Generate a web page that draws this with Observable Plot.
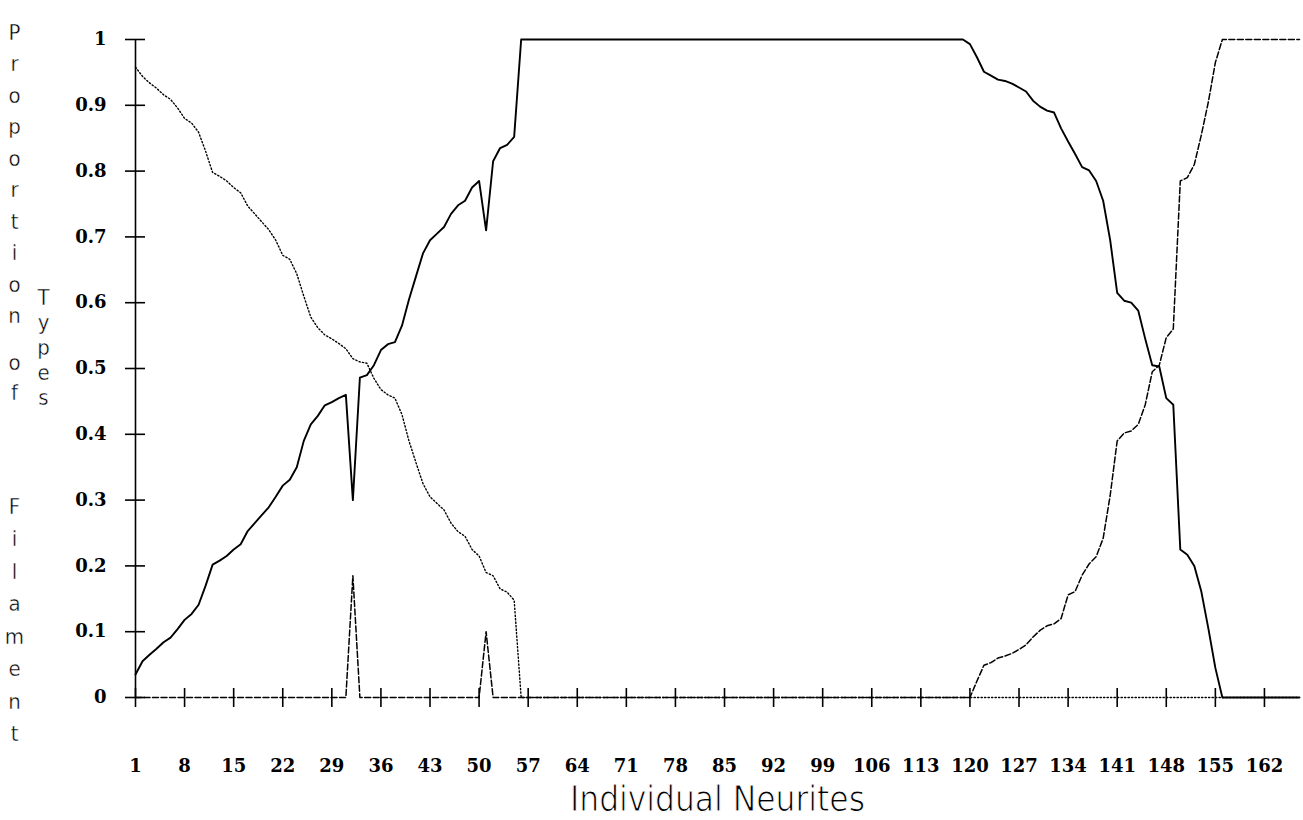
<!DOCTYPE html>
<html><head><meta charset="utf-8">
<script src="https://cdn.jsdelivr.net/npm/d3@7"></script>
<script src="https://cdn.jsdelivr.net/npm/@observablehq/plot@0.6"></script>
<style>
html,body{margin:0;padding:0;background:#fff;}
#chart{width:1303px;height:820px;}
</style></head><body><div id="chart"></div>
<script>
// Individual neurites 1..167
const neurites = d3.range(1, 168);

// Solid line
const solidType = [
  0.035,0.055,0.065,0.074,0.084,0.091,0.104,0.118,0.127,0.141,
  0.170,0.202,0.208,0.215,0.225,0.233,0.253,0.265,0.277,0.289,
  0.305,0.322,0.331,0.350,0.390,0.415,0.428,0.444,0.449,0.455,
  0.460,0.300,0.486,0.490,0.505,0.528,0.537,0.540,0.565,0.605,
  0.640,0.675,0.695,0.705,0.715,0.735,0.748,0.755,0.775,0.785,
  0.710,0.815,0.835,0.840,0.852,1,1,1,1,1,
  1,1,1,1,1,1,1,1,1,1,
  1,1,1,1,1,1,1,1,1,1,
  1,1,1,1,1,1,1,1,1,1,
  1,1,1,1,1,1,1,1,1,1,
  1,1,1,1,1,1,1,1,1,1,
  1,1,1,1,1,1,1,1,1,0.993,
  0.973,0.951,0.945,0.939,0.937,0.933,0.927,0.921,0.907,0.898,
  0.892,0.889,0.865,0.845,0.826,0.806,0.801,0.785,0.755,0.695,
  0.615,0.603,0.600,0.588,0.545,0.505,0.503,0.455,0.445,0.225,
  0.217,0.200,0.161,0.105,0.045,0,0,0,0,0,
  0,0,0,0,0,0,0
];

// Dotted line
const dottedType = [
  0.958,0.944,0.934,0.926,0.916,0.909,0.896,0.880,0.873,0.859,
  0.830,0.798,0.792,0.785,0.775,0.767,0.747,0.735,0.723,0.711,
  0.695,0.672,0.666,0.644,0.610,0.578,0.562,0.551,0.545,0.538,
  0.530,0.515,0.510,0.508,0.485,0.468,0.460,0.455,0.430,0.390,
  0.357,0.325,0.305,0.295,0.285,0.265,0.252,0.245,0.225,0.215,
  0.190,0.185,0.165,0.160,0.148,0,0,0,0,0,
  0,0,0,0,0,0,0,0,0,0,
  0,0,0,0,0,0,0,0,0,0,
  0,0,0,0,0,0,0,0,0,0,
  0,0,0,0,0,0,0,0,0,0,
  0,0,0,0,0,0,0,0,0,0,
  0,0,0,0,0,0,0,0,0,0,
  0,0,0,0,0,0,0,0,0,0,
  0,0,0,0,0,0,0,0,0,0,
  0,0,0,0,0,0,0,0,0,0,
  0,0,0,0,0,0,0,0,0,0,
  0,0,0,0,0,0,0
];

// Dash line
const dashedType = [
  0,0,0,0,0,0,0,0,0,0,
  0,0,0,0,0,0,0,0,0,0,
  0,0,0,0,0,0,0,0,0,0,
  0,0.185,0,0,0,0,0,0,0,0,
  0,0,0,0,0,0,0,0,0,0,
  0.100,0,0,0,0,0,0,0,0,0,
  0,0,0,0,0,0,0,0,0,0,
  0,0,0,0,0,0,0,0,0,0,
  0,0,0,0,0,0,0,0,0,0,
  0,0,0,0,0,0,0,0,0,0,
  0,0,0,0,0,0,0,0,0,0,
  0,0,0,0,0,0,0,0,0,0,
  0.025,0.049,0.053,0.060,0.063,0.067,0.073,0.080,0.092,0.102,
  0.109,0.112,0.120,0.156,0.161,0.186,0.203,0.214,0.242,0.307,
  0.390,0.402,0.405,0.415,0.445,0.495,0.505,0.547,0.560,0.785,
  0.790,0.810,0.855,0.905,0.965,1,1,1,1,1,
  1,1,1,1,1,1,1
];

const xTicks = [1,8,15,22,29,36,43,50,57,64,71,78,85,92,99,106,113,120,127,134,141,148,155,162];
const yTicks = [0,0.1,0.2,0.3,0.4,0.5,0.6,0.7,0.8,0.9,1];
const yTickLabels = ["0","0.1","0.2","0.3","0.4","0.5","0.6","0.7","0.8","0.9","1"];
const xTitle = "Individual Neurites";
const yTitleMain = ["Proportion", "of", "Filament"];
const yTitleSide = "Types";

const toRows = (vals) => neurites.map((n, i) => ({n, v: vals[i]}));
const stack = (s) => s.split("").join("\n");

const tickFont = {fontSize: 18, fontFamily: "DejaVu Serif", fontWeight: "bold"};
const titleFont = "'Liberation Sans Narrow', 'DejaVu Sans Condensed', 'Roboto', sans-serif";
const thin = {fill: "#000", stroke: "#fff", strokeWidth: 0.4, paintOrder: "fill", fontFamily: titleFont};
const colText = {frameAnchor: "top-left", lineAnchor: "top", textAnchor: "middle", fontSize: 22, ...thin};

const chart = Plot.plot({
  width: 1303, height: 820,
  marginLeft: 135, marginRight: 4, marginTop: 39, marginBottom: 123,
  x: {domain: [1, 167]},
  y: {domain: [0, 1]},
  style: {background: "#fff", color: "#000"},
  marks: [
    Plot.ruleX([1], {stroke: "#000", strokeWidth: 1.6}),
    Plot.axisY({ticks: yTicks, tickFormat: d => yTickLabels[yTicks.indexOf(d)], tickSize: 20, dx: 10, tickPadding: 19, strokeWidth: 1.6, label: null, ...tickFont}),
    Plot.axisX({ticks: xTicks, tickFormat: d => `${d}`, tickSize: 19, dy: -9, tickPadding: 52, strokeWidth: 1.6, label: null, ...tickFont}),
    Plot.line(toRows(dottedType), {x: "n", y: "v", stroke: "#000", strokeWidth: 1.4, strokeDasharray: "1.3,2.2"}),
    Plot.line(toRows(dashedType), {x: "n", y: "v", stroke: "#000", strokeWidth: 1.5, strokeDasharray: "6,2.5"}),
    Plot.line(toRows(solidType), {x: "n", y: "v", stroke: "#000", strokeWidth: 1.9}),
    Plot.text([xTitle], {frameAnchor: "bottom", dy: 102, lineAnchor: "middle", fontSize: 36, className: "xtitle", ...thin, strokeWidth: 1.0}),
    Plot.text([stack(yTitleMain[0])], {...colText, dx: -121, dy: -22, lineHeight: 31.5/22}),
    Plot.text([stack(yTitleMain[1])], {...colText, dx: -121, dy: 309, lineHeight: 30/22}),
    Plot.text([stack(yTitleMain[2])], {...colText, dx: -121, dy: 451, lineHeight: 32.5/22}),
    Plot.text([stack(yTitleSide)], {...colText, dx: -92, dy: 248, lineHeight: 25/22})
  ]
});
document.getElementById("chart").appendChild(chart);
d3.select(chart).selectAll(".xtitle text").attr("textLength", 295).attr("lengthAdjust", "spacingAndGlyphs");
</script>
</body></html>
